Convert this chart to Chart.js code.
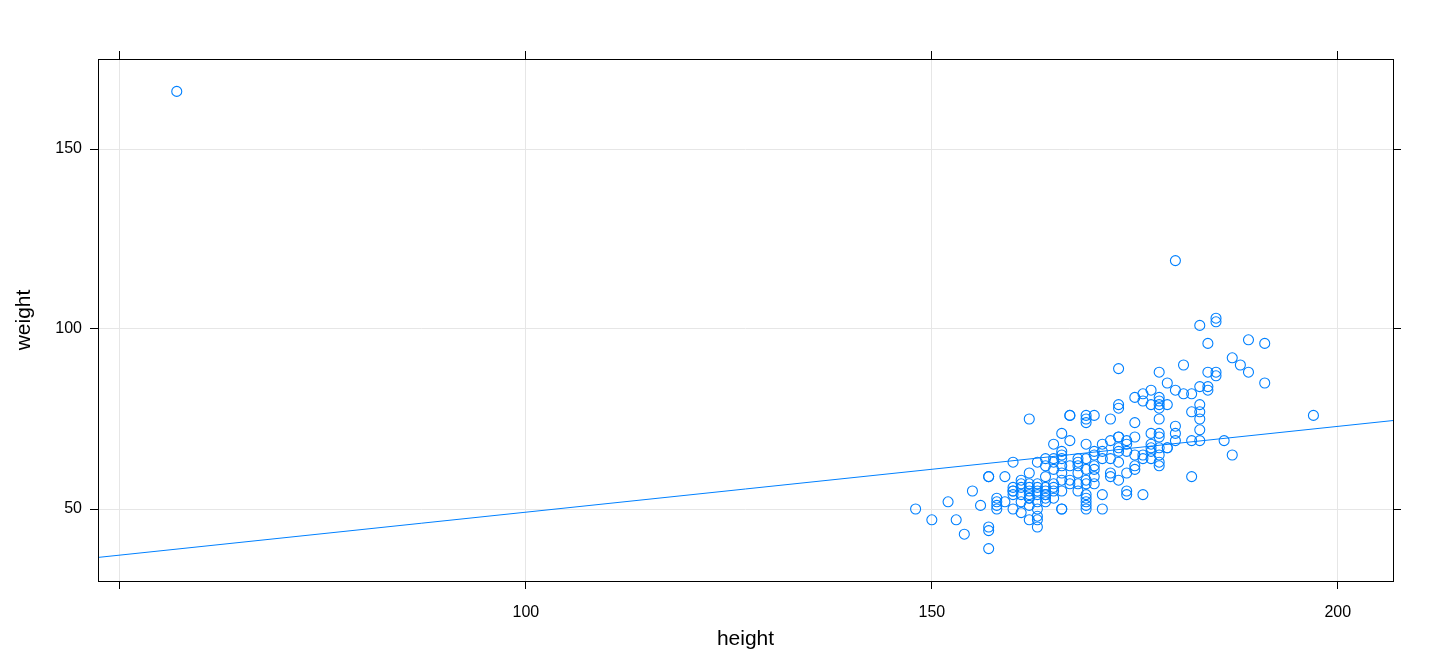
<!DOCTYPE html><html><head><script src="https://cdn.jsdelivr.net/npm/chart.js@4"></script>
<style>body{margin:0;background:#fff}#w{width:1440px;height:672px}</style></head><body><div id="w"><canvas id="c"></canvas></div>
<script>
const heightCols = [57,148,150,152,153,154,155,156,157,158,159,160,161,162,163,164,165,166,167,168,169,170,171,172,173,174,175,176,177,178,179,180,181,182,183,184,185,186,187,188,189,191,197];
const weightCols = [[166],[50],[47],[52],[47],[43],[55],[51],[59,59,45,44,39],[53,52,50,51],[59,52],[63,56,55,54,50,55],[56,58,54,52,49,57],
[75,60,57,56,53,55,54,51,47,53],[63,57,55,54,52,50,48,45,47,56],[64,62,59,56,54,53,52,54,55],[68,64,63,61,57,56,55,53],
[71,66,65,64,62,60,58,55,50,50],[76,76,69,62,58,57],[64,63,62,60,57,55],[76,75,74,68,64,61,58,57,54,53,52,51,50],
[76,66,65,62,61,59,57],[68,66,64,54,50],[75,69,64,60,59],[89,79,78,70,70,67,66,63,58],[69,68,66,60,55,54],
[81,74,70,65,62,61],[82,80,65,64,54],[83,79,71,67,66,64,68],[88,81,80,79,78,75,71,70,67,65,63,62],[85,79,67,67],
[119,83,73,71,69],[90,82],[82,77,69,59],[101,84,79,77,75,72,69],[96,88,84,83],[103,102,88,87],[69],[92,65],[90],[97,88],[96,85],[76]];
const lineX = [47.3, 206.8];
const intercept = 25.27, slope = 0.2384;
const xTicks = [50,100,150,200], yTicks = [50,100,150];

const pts = [];
heightCols.forEach((h,i)=>weightCols[i].forEach(w=>pts.push({x:h,y:w})));
const linePts = lineX.map(x=>({x, y:intercept+slope*x}));
const blue = '#0080ff';
const tickFont = {family:'Liberation Sans, Arial', size:16};
function fixTicks(vals){return a=>{a.ticks=vals.map(v=>({value:v}));};}
new Chart(document.getElementById('c'),{
 type:'scatter',
 data:{datasets:[
  {data:pts,showLine:false,pointRadius:5,pointHoverRadius:5,borderColor:blue,backgroundColor:'rgba(0,0,0,0)',borderWidth:1.1,xAxisID:'x',yAxisID:'y'},
  {data:linePts,showLine:true,pointRadius:0,borderColor:blue,borderWidth:1,xAxisID:'x',yAxisID:'y'}]},
 options:{responsive:true,maintainAspectRatio:false,animation:false,
  layout:{padding:0},
  plugins:{legend:{display:false},tooltip:{enabled:false}},
  scales:{
   x:{type:'linear',min:47.3,max:206.8,position:'bottom',afterBuildTicks:fixTicks(xTicks),
     afterFit:s=>{s.height=91;},
     grid:{color:'#e6e6e6',tickColor:'#000',tickLength:8,drawTicks:true},border:{display:false},
     ticks:{color:'#000',font:tickFont,padding:14,callback:v=>v===50?'':v,maxRotation:0,autoSkip:false},
     title:{display:true,text:'height',color:'#000',font:{family:'Liberation Sans, Arial',size:21},padding:{top:0,bottom:20}}},
   x2:{type:'linear',min:47.3,max:206.8,position:'top',afterBuildTicks:fixTicks(xTicks),
     afterFit:s=>{s.height=59;},
     grid:{drawOnChartArea:false,tickColor:'#000',tickLength:8},border:{display:false},ticks:{display:false}},
   y:{type:'linear',min:30,max:175,position:'left',afterBuildTicks:fixTicks(yTicks),
     afterFit:s=>{s.width=98;},
     grid:{color:'#e6e6e6',tickColor:'#000',tickLength:8},border:{display:false},
     ticks:{color:'#000',font:tickFont,padding:8},
     title:{display:true,text:'weight',color:'#000',font:{family:'Liberation Sans, Arial',size:21},padding:{top:12,bottom:0}}},
   y2:{type:'linear',min:30,max:175,position:'right',afterBuildTicks:fixTicks(yTicks),
     afterFit:s=>{s.width=47;},
     grid:{drawOnChartArea:false,tickColor:'#000',tickLength:8},border:{display:false},ticks:{display:false}}
  }},
 plugins:[{id:'box',afterDraw(c){const a=c.chartArea,g=c.ctx;g.save();g.strokeStyle='#000';g.lineWidth=1;g.strokeRect(a.left+0.5,a.top+0.5,a.right-a.left,a.bottom-a.top);g.restore();}}]
});
</script></body></html>
